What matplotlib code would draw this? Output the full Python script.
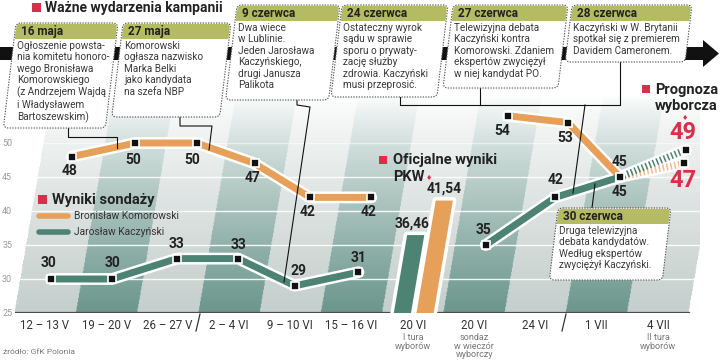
import numpy as np
import matplotlib
matplotlib.use("Agg")
import matplotlib.pyplot as plt
from matplotlib.patches import FancyBboxPatch, Rectangle, Polygon
from matplotlib.transforms import Affine2D

plt.rcParams['font.family'] = ['Roboto', 'DejaVu Sans']

# dane
categories = ['12 – 13 V', '19 – 20 V', '26 – 27 V', '2 – 4 VI', '9 – 10 VI', '15 – 16 VI',
              '20 VI', '20 VI', '24 VI', '1 VII', '4 VII']
sublabels = ['', '', '', '', '', '', 'I tura\nwyborów', 'sondaz\nw wieczór\nwyborczy',
             '', '', 'II tura\nwyborów']

poll_idx = [0, 1, 2, 3, 4, 5]
kom_polls = [48, 50, 50, 47, 42, 42]
kac_polls = [30, 30, 33, 33, 29, 31]

late_idx = [7, 8, 9]
kom_late = [54, 53, 45]
kac_late = [35, 42, 45]

pkw_idx = 6
pkw_kac = 36.46
pkw_kom = 41.54

fc_idx = [9, 10]
kom_fc = [45, 47]
kac_fc = [45, 49]

dates = ['16 maja', '27 maja', '9 czerwca', '24 czerwca', '27 czerwca', '28 czerwca', '30 czerwca']
events = [
    'Ogłoszenie powsta-\nnia komitetu honoro-\nwego Bronisława\nKomorowskiego\n(z Andrzejem Wajdą\ni Władysławem\nBartoszewskim)',
    'Komorowski\nogłasza nazwisko\nMarka Belki\njako kandydata\nna szefa NBP',
    'Dwa wiece\nw Lublinie.\nJeden Jarosława\nKaczyńskiego,\ndrugi Janusza\nPalikota',
    'Ostateczny wyrok\nsądu w sprawie\nsporu o prywaty-\nzację służby\nzdrowia. Kaczyński\nmusi przeprosić.',
    'Telewizyjna debata\nKaczyński kontra\nKomorowski. Zdaniem\nekspertów zwyciężył\nw niej kandydat PO.',
    'Kaczyński w W. Brytanii\nspotkał się z premierem\nDavidem Cameronem.',
    'Druga telewizyjna\ndebata kandydatów.\nWedług ekspertów\nzwyciężył Kaczyński.',
]

# kolory
ORANGE = '#e6a05a'
TEAL = '#4c8373'
OLIVE = '#b4bb62'
RED = '#d8304a'
DARK = np.array([0.42, 0.59, 0.55])
LIGHT = np.array([0.77, 0.81, 0.80])
SK = 0.019  # pochylenie kolumn

fig = plt.figure(figsize=(7.2, 3.63), dpi=100)

# wykres
ax = fig.add_axes([15 / 720, 50 / 363, 685 / 720, 253 / 363])
X0, X1 = (15 - 45) / 61.3, (700 - 45) / 61.3
YT = 25 + 253 / 6.8
ax.set_xlim(X0, X1)
ax.set_ylim(25, YT)
for s in ax.spines.values():
    s.set_visible(False)

# tlo - pochylone pasy z gradientem
xs = np.linspace(X0, X1, 900)
vs = np.linspace(25, YT, 300)
X, V = np.meshgrid(xs, vs)
Xp = X - SK * (V - 25)
k = np.floor(Xp + 0.5)
inside = (Xp >= -0.5) & (Xp < 10.5)
base = np.where((k % 2 == 1)[..., None], DARK, LIGHT)
a = np.clip((57 - V) / (57 - 25), 0, 1) ** 0.8
img = np.ones(V.shape + (4,))
img[..., :3] = 1 - a[..., None] * (1 - base)
img[..., 3] = inside.astype(float)
ax.imshow(img, extent=[X0, X1, 25, YT], origin='lower', aspect='auto', zorder=0)

for g in [30, 35, 40, 45, 50]:
    ax.plot([-0.5 + SK * (g - 25), 10.5 + SK * (g - 25)], [g, g], color='white',
            lw=1.0, alpha=0.9 if g < 50 else 0.5, zorder=1)
ax.plot([-0.5, 10.5], [25, 25], color='#4a4a4a', lw=1.6, zorder=2)

ax.set_xticks(range(len(categories)), categories)
ax.set_yticks([25, 30, 35, 40, 45, 50])
ax.tick_params(axis='x', length=0, pad=4, labelsize=8.3, labelcolor='#333')
ax.tick_params(axis='y', length=0, pad=2, labelsize=6.5, labelcolor='#999')
for i, sub in enumerate(sublabels):
    if sub:
        ax.annotate(sub, (i, 25), xytext=(0, -20), textcoords='offset pixels', ha='center',
                    va='top', fontsize=6.5, color='#777', linespacing=0.95, annotation_clip=False)


def sx(idx, vals):
    return np.array(idx) + SK * (np.array(vals) - 25)


def series(idx, vals, color):
    x = sx(idx, vals)
    ax.plot(x, vals, color='white', lw=8.5, solid_capstyle='round', solid_joinstyle='round', zorder=3)
    ax.plot(x, vals, color=color, lw=5, solid_capstyle='butt', solid_joinstyle='round', zorder=4)


def markers(idx, vals):
    ax.plot(sx(idx, vals), vals, ls='none', marker='s', ms=5.5, mfc='#111', mec='white',
            mew=1.2, zorder=6)


def labels(idx, vals, offs, **kw):
    for x, v, (dx, dy) in zip(sx(idx, vals), vals, offs):
        ax.annotate(f'{v:g}', (x, v), xytext=(dx, dy), textcoords='offset pixels', ha='center',
                    va='center', fontweight='bold', zorder=7, **kw)


# prognoza - kreskowane odcinki
for vals, color, al in [(kom_fc, ORANGE, 0.7), (kac_fc, TEAL, 1.0)]:
    x = sx(fc_idx, vals)
    ax.plot(x, vals, color='white', lw=8.5, solid_capstyle='round', zorder=3)
    ax.plot(x, vals, color=color, lw=5, dashes=(0.22, 0.35), alpha=al, zorder=4)

series(poll_idx, kom_polls, ORANGE)
series(poll_idx, kac_polls, TEAL)
series(late_idx, kom_late, ORANGE)
series(late_idx, kac_late, TEAL)
markers(poll_idx, kom_polls)
markers(poll_idx, kac_polls)
markers(late_idx, kom_late)
markers(late_idx, kac_late)
markers([10], [kom_fc[1]])
markers([10], [kac_fc[1]])

labels(poll_idx, kom_polls, [(-2, -14), (-2, -17), (-5, -17), (-2, -15), (-2, -15), (-3, -15)],
       fontsize=10, color='#222')
labels(poll_idx, kac_polls, [(-2, 16), (0, 16), (0, 15), (0, 14), (4, 15), (0, 14)],
       fontsize=10, color='#222')
labels(late_idx, kom_late, [(-6, -15), (-3, -15), (0, 15)], fontsize=10, color='#222')
labels(late_idx, kac_late, [(-2, 15), (0, 17), (0, -15)], fontsize=10, color='#222')
labels([10], [kac_fc[1]], [(-3, 17)], fontsize=17, color=RED)
labels([10], [kom_fc[1]], [(-1, -17)], fontsize=17, color=RED)

# oficjalne wyniki PKW - pochylone slupki
for off, v, color, dx in [(-0.17, pkw_kac, TEAL, -4), (0.2, pkw_kom, ORANGE, 0)]:
    c, w = pkw_idx + off, 0.28
    top = SK * (v - 25)
    pts = [(c - w / 2, 25), (c + w / 2, 25), (c + w / 2 + top, v), (c - w / 2 + top, v)]
    ax.add_patch(Polygon(pts, closed=True, fc='white', ec='white', lw=5, joinstyle='round', zorder=3))
    ax.add_patch(Polygon(pts, closed=True, fc=color, ec='none', zorder=4))
    ax.annotate(f'{v:.2f}'.replace('.', ','), (c + top, v), xytext=(dx, 12),
                textcoords='offset pixels', ha='center', va='center', fontsize=10,
                fontweight='bold', color='#222', zorder=7)

# warstwa opisow (wspolrzedne w pikselach)
ov = fig.add_axes([0, 0, 1, 1], zorder=10)
ov.set_xlim(0, 720)
ov.set_ylim(363, 0)
ov.axis('off')

# os czasu
ov.add_patch(Rectangle((0, 47), 706, 13, fc='#111', ec='none', zorder=1))
ov.add_patch(Polygon([(703, 40), (719, 53.5), (703, 67)], closed=True, fc='#111', ec='none', zorder=1))

connectors = [
    [(68, 128), (68, 137), (117, 137), (117, 148)],
    [(180, 117), (180, 126), (212, 126), (209, 150)],
    [(297, 100), (297, 105), (310, 107), (284, 282)],
    [(400, 97), (400, 105), (620, 105), (620, 62)],
    [(480, 88), (480, 105)],
    [(585, 105), (573, 193)],
    [(592, 208), (595, 184)],
]
for c in connectors:
    ov.plot(*zip(*c), color='#111', lw=0.8, zorder=2)

box_geom = [(16, 23, 102, 105), (123, 23, 108, 94), (237, 5, 103, 95), (342, 5, 106, 92),
            (453, 5, 115, 83), (572, 5, 120, 57), (558, 208, 113, 72)]
KB = 0.12
for (x, y, w, h), d, t in zip(box_geom, dates, events):
    yb = y + h
    xb = x - KB * h
    tr = Affine2D(np.array([[1, -KB, KB * yb], [0, 1, 0], [0, 0, 1]])) + ov.transData
    ov.add_patch(FancyBboxPatch((xb, y), w, h, boxstyle='round,pad=0,rounding_size=5',
                                fc='white', ec='none', transform=tr, zorder=3))
    ov.add_patch(FancyBboxPatch((xb + 0.8, y + 0.8), w - 1.6, 15, boxstyle='round,pad=0,rounding_size=4',
                                fc=OLIVE, ec='none', transform=tr, zorder=4))
    ov.add_patch(Rectangle((xb + 0.8, y + 9), w - 1.6, 7, fc=OLIVE, ec='none', transform=tr, zorder=4))
    ov.add_patch(FancyBboxPatch((xb, y), w, h, boxstyle='round,pad=0,rounding_size=5',
                                fc='none', ec='#555', lw=0.8, ls=(0, (1.2, 1.2)), transform=tr, zorder=5))
    ov.text(x + 5, y + 8.5, d, fontsize=8.5, fontweight='bold', color='#222', va='center', zorder=6)
    ov.text(x + 1, y + 18, t, fontsize=7.2, color='#3a3a3a', va='top', linespacing=1.18, zorder=6)

# tytul i legendy
def red_square(x, y, s=9):
    ov.add_patch(Rectangle((x, y), s, s, fc=RED, ec='none', zorder=6))

red_square(32, 3)
ov.text(45, 8, 'Ważne wydarzenia kampanii', fontsize=10, fontweight='bold', color='#222', va='center')

red_square(38, 195)
ov.text(52, 200, 'Wyniki sondaży', fontsize=10.5, fontweight='bold', color='#222', va='center')
ov.plot([39, 68], [216, 216], color=ORANGE, lw=4, solid_capstyle='round')
ov.plot([39, 68], [232, 232], color=TEAL, lw=4, solid_capstyle='round')
ov.text(74, 216, 'Bronisław Komorowski', fontsize=7.4, color='#333', va='center')
ov.text(74, 232, 'Jarosław Kaczyński', fontsize=7.4, color='#333', va='center')

red_square(379, 156, 8)
ov.text(393, 160, 'Oficjalne wyniki', fontsize=10.5, fontweight='bold', color='#222', va='center')
ov.text(393, 177, 'PKW', fontsize=10.5, fontweight='bold', color='#222', va='center')
ov.text(426, 178, '♦', fontsize=5, color=RED, va='center')

red_square(642, 85, 8)
ov.text(655, 90, 'Prognoza', fontsize=10.5, fontweight='bold', color='#222', va='center')
ov.text(655, 106, 'wyborcza', fontsize=10.5, fontweight='bold', color='#222', va='center')
ov.text(685, 118, '♦', fontsize=5, color=RED, va='center', ha='center')

# znaczniki miesiecy
for xm in [198, 564]:
    ov.plot([xm + 2, xm - 2], [314, 331], color='#333', lw=0.9)

ov.text(3, 352, 'źródło: GfK Polonia', fontsize=6, color='#777', va='center')

fig.savefig('out.png', dpi=100)
